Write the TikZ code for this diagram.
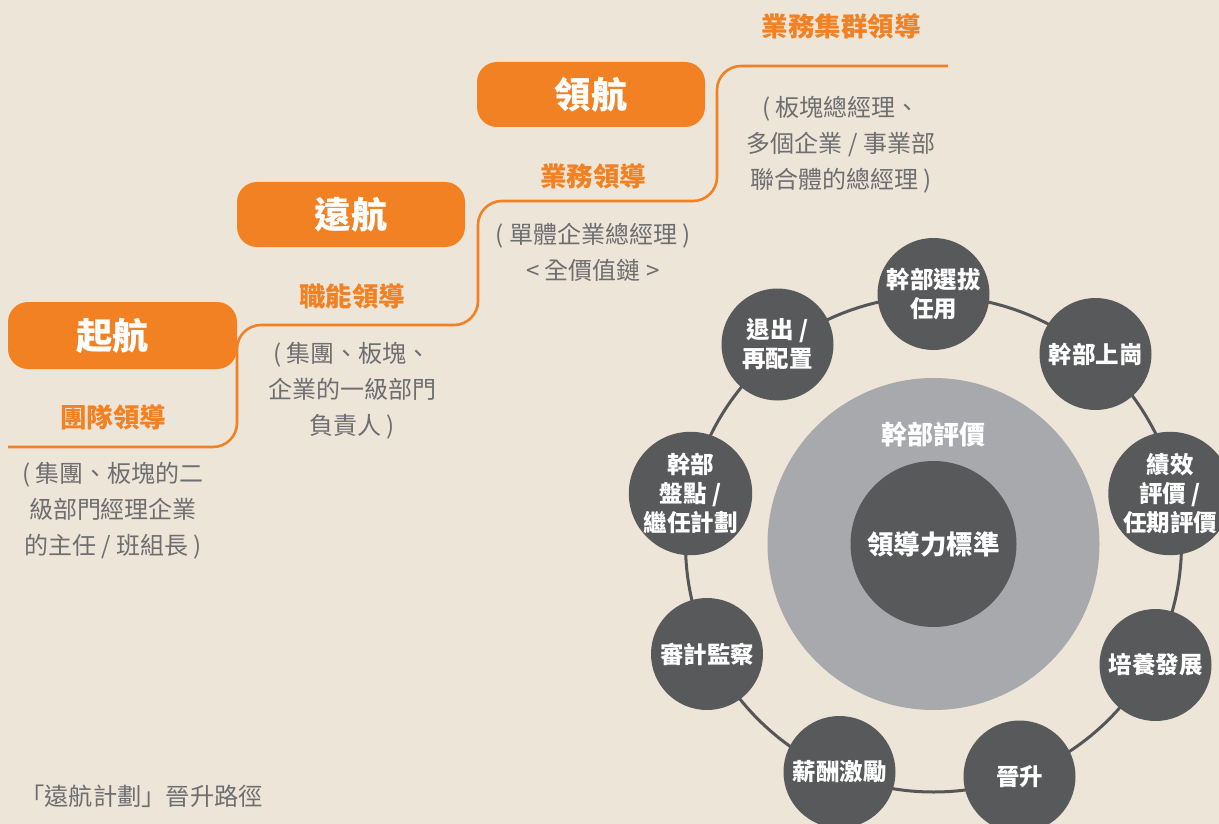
\documentclass[tikz,border=0pt]{standalone}
\usepackage{fontspec}
\setmainfont{Noto Sans CJK TC}
\definecolor{bg}{HTML}{EDE5D8}
\definecolor{orng}{HTML}{F28123}
\definecolor{dk}{HTML}{58595B}
\definecolor{lg}{HTML}{A7A9AC}
\definecolor{txt}{HTML}{6D6E70}
\definecolor{ringc}{HTML}{555658}
\begin{document}
\begin{tikzpicture}[x=1pt,y=-1pt,
  btn/.style={fill=orng, rounded corners=20pt, minimum width=228pt, minimum height=65pt, inner sep=0pt,
    text=white, font=\fontsize{36.5}{40}\selectfont\bfseries},
  olabel/.style={text=orng, inner sep=0pt, font=\fontsize{26.5}{30}\selectfont\bfseries},
  gtext/.style={text=txt, inner sep=0pt, align=center, font=\fontsize{24}{36}\selectfont},
  stair/.style={draw=orng, line width=2.6pt, rounded corners=24pt},
  smallc/.style={circle, fill=dk, minimum size=112pt, inner sep=0pt, text=white, align=center,
    font=\fontsize{23.5}{29}\selectfont\bfseries},
  ringline/.style={draw=ringc, line width=3pt}
]
\useasboundingbox (0,0) rectangle (1219,824);
\fill[bg] (0,0) rectangle (1219,824);

% staircase line
\coordinate (s0) at (8,447);
\coordinate (s1) at (237,447);
\coordinate (s2) at (237,325);
\coordinate (s3) at (478,325);
\coordinate (s4) at (478,201);
\coordinate (s5) at (717,201);
\coordinate (s6) at (717,66);
\coordinate (s7) at (948,66);
\draw[stair] (s0) -- (s1) -- (s2) -- (s3) -- (s4) -- (s5) -- (s6) -- (s7);

% buttons
\node[btn, minimum width=229pt, minimum height=67pt] (b1) at (122.5,335.5) {\hspace*{-20pt}起航};
\node[btn] (b2) at (351,214.5) {遠航};
\node[btn] (b3) at (591,94.5) {領航};

% labels
\node[olabel] (l1) at (113,417) {團隊領導};
\node[gtext] (t1) at (113,511) {( 集團、板塊的二\\級部門經理企業\\的主任 / 班組長 )};
\node[olabel] (l2) at (352,296) {職能領導};
\node[gtext] (t2) at (352,391) {( 集團、板塊、\\企業的一級部門\\負責人 )};
\node[olabel] (l3) at (593,176) {業務領導};
\node[gtext] (t3) at (593,252.5) {( 單體企業總經理 )\\< 全價值鏈 >};
\node[olabel] (l4) at (841,26) {業務集群領導};
\node[gtext] (t4) at (841,145) {( 板塊總經理、\\多個企業 / 事業部\\聯合體的總經理 )};

\node[text=txt, inner sep=0pt, anchor=west, font=\fontsize{24.3}{28}\selectfont] (cap) at (20,796) {「遠航計劃」晉升路徑};

% circle diagram
\coordinate (ctr) at (933.5,544);
\draw[ringline] (ctr) circle[radius=248pt];
\node[circle, fill=lg, minimum size=332pt, inner sep=0pt] (eval) at (ctr) {};
\node[text=white, inner sep=0pt, font=\fontsize{26}{30}\selectfont\bfseries] (evalt) at (933.5,434) {幹部評價};
\node[circle, fill=dk, minimum size=166pt, inner sep=0pt, text=white, font=\fontsize{26.5}{30}\selectfont\bfseries] (core) at (ctr) {領導力標準};

\node[smallc] (c1) at (933.5,294) {幹部選拔\\任用};
\node[smallc] (c2) at (1095.5,354) {幹部上崗};
\node[smallc] (c3) at (1170,493.5) {績效\\評價 /\\任期評價};
\node[smallc] (c4) at (1155.5,665) {培養發展};
\node[smallc] (c5) at (1019.5,776.5) {晉升};
\node[smallc] (c6) at (839.5,772) {薪酬激勵};
\node[smallc] (c7) at (707,654) {審計監察};
\node[smallc] (c8) at (690.5,493.5) {幹部\\盤點 /\\繼任計劃};
\node[smallc] (c9) at (777.5,344.5) {退出 /\\再配置};
\end{tikzpicture}
\end{document}
